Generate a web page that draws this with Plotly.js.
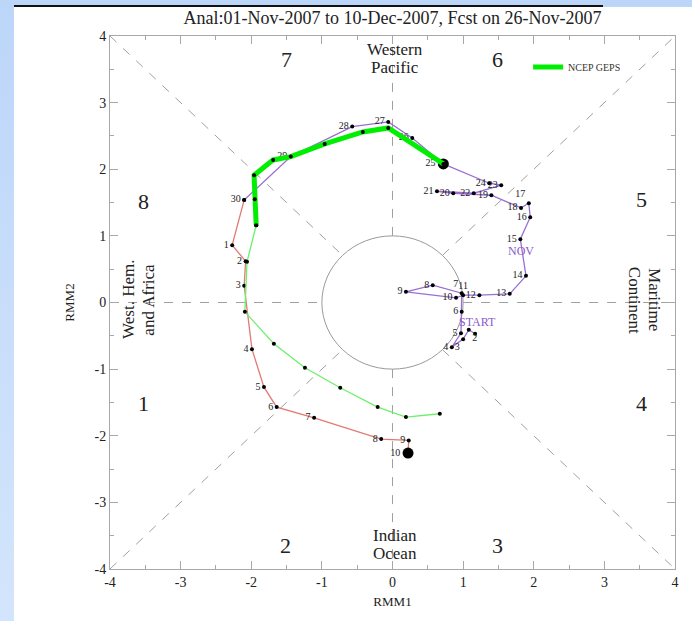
<!DOCTYPE html>
<html>
<head>
<meta charset="utf-8">
<script src="https://cdn.plot.ly/plotly-3.0.1.min.js"></script>
<style>
  html, body { margin: 0; padding: 0; }
  body {
    width: 692px; height: 621px; overflow: hidden; position: relative;
    background: linear-gradient(180deg, #bcd6f9 0%, #d3e5fc 100%);
  }
  #panel { position: absolute; left: 14px; top: 7px; right: 0; bottom: 0; background: #ffffff; }
  #rule { position: absolute; left: 14px; top: 5px; width: 589px; height: 2px; background: #111; }
  #chart { position: absolute; left: 0; top: 0; width: 692px; height: 621px; }
</style>
</head>
<body>
<div id="panel"></div>
<div id="rule"></div>
<div id="chart"></div>
<script>
// Observed RMM index, November 2007 (day of month, RMM1, RMM2)
const novDays = [1, 2, 3, 4, 5, 6, 7, 8, 9, 10, 11, 12, 13, 14, 15, 16, 17, 18, 19, 20, 21, 22, 23, 24, 25, 26, 27, 28, 29, 30];
const novRmm1 = [1.17, 1.08, 1.00, 0.84, 0.97, 0.98, 0.98, 0.57, 0.19, 0.90, 1.00, 1.23, 1.66, 1.89, 1.81, 1.95, 1.93, 1.82, 1.40, 0.86, 0.63, 1.15, 1.54, 1.37, 0.72, 0.28, -0.06, -0.57, -1.44, -2.10];
const novRmm2 = [-0.47, -0.41, -0.55, -0.67, -0.46, -0.14, 0.14, 0.26, 0.16, 0.07, 0.11, 0.11, 0.13, 0.40, 0.95, 1.28, 1.49, 1.42, 1.61, 1.64, 1.67, 1.64, 1.76, 1.79, 2.08, 2.47, 2.71, 2.64, 2.19, 1.54];

// Observed RMM index, 30 Nov to 10 Dec 2007
const decDays = ['', '1', '2', '3', '4', '5', '6', '7', '8', '9', '10'];
const decRmm1 = [-2.10, -2.27, -2.08, -2.10, -1.99, -1.82, -1.64, -1.11, -0.16, 0.23, 0.22];
const decRmm2 = [1.54, 0.86, 0.62, 0.25, -0.70, -1.27, -1.57, -1.73, -2.05, -2.07, -2.26];

// NCEP GEPS ensemble-mean forecast: first week (thick) and second week (thin)
const gepsWk1Rmm1 = [0.72, -0.06, -0.42, -0.96, -1.44, -1.69, -1.96, -1.95, -1.93];
const gepsWk1Rmm2 = [2.08, 2.62, 2.56, 2.38, 2.19, 2.14, 1.91, 1.55, 1.16];
const gepsWk2Rmm1 = [-1.93, -2.06, -2.09, -1.68, -1.24, -0.74, -0.21, 0.19, 0.67];
const gepsWk2Rmm2 = [1.16, 0.61, -0.14, -0.62, -0.98, -1.28, -1.57, -1.72, -1.67];

// Axis ticks
const tickVals = [-4, -3, -2, -1, 0, 1, 2, 3, 4];
const tickLabels = ['-4', '-3', '-2', '-1', '0', '1', '2', '3', '4'];

// Phase numbers and region names around the diagram (one entry per text line)
const phaseLabels = ['1', '2', '3', '4', '5', '6', '7', '8'];
const phaseX = [-3.53, -1.52, 1.48, 3.52, 3.52, 1.48, -1.50, -3.53];
const phaseY = [-1.51, -3.64, -3.64, -1.51, 1.54, 3.64, 3.64, 1.51];
const regionLines = ['Western', 'Pacific', 'Indian', 'Ocean', 'West. Hem.', 'and Africa', 'Maritime', 'Continent'];
const regionX = [0.03, 0.03, 0.03, 0.03, -3.73, -3.45, 3.70, 3.42];
const regionY = [3.79, 3.52, -3.50, -3.76, 0.04, 0.04, 0.04, 0.04];
const regionAngle = [0, 0, 0, 0, -90, -90, 90, 90];

const serif = 'Liberation Serif, Times New Roman, serif';
const purple = '#9a6fd2';
const red = '#e07a74';

// Day labels: START marks the first day, so its own number is left off.
// Labels in crowded stretches of the track are nudged to other sides.
const novText = novDays.map(d => d === 1 ? '' : String(d));
const novTextPos = novDays.map(d => {
  if (d === 7) return 'top left';
  if (d === 11) return 'top center';
  if (d === 2) return 'bottom right';
  if (d === 3) return 'bottom left';
  if (d === 17) return 'top left';
  return 'middle left';
});
const novSizes = novDays.map(d => d === 25 ? 11 : 4);
const decSizes = decDays.map(d => d === '10' ? 11 : 4);
const dot = size => ({color: '#000', size: size, opacity: 1, line: {width: 0}});

const traces = [
  {
    x: novRmm1, y: novRmm2, text: novText, mode: 'lines+markers+text',
    textposition: novTextPos, textfont: {family: serif, size: 10, color: '#222'},
    line: {color: purple, width: 1.3}, marker: dot(novSizes),
    showlegend: false, hoverinfo: 'skip'
  },
  {
    x: decRmm1, y: decRmm2, text: decDays, mode: 'lines+markers+text',
    textposition: 'middle left', textfont: {family: serif, size: 10, color: '#222'},
    line: {color: red, width: 1.3}, marker: dot(decSizes),
    showlegend: false, hoverinfo: 'skip'
  },
  {
    x: gepsWk2Rmm1, y: gepsWk2Rmm2, mode: 'lines+markers',
    line: {color: '#6cf06c', width: 1.3}, marker: dot(4),
    showlegend: false, hoverinfo: 'skip'
  },
  {
    x: gepsWk1Rmm1, y: gepsWk1Rmm2, mode: 'lines', name: 'NCEP GEPS',
    line: {color: '#00ee00', width: 5},
    showlegend: true, hoverinfo: 'skip'
  },
  {
    x: gepsWk1Rmm1, y: gepsWk1Rmm2, mode: 'markers', marker: dot(4),
    showlegend: false, hoverinfo: 'skip'
  }
];

// Phase-boundary guides and the unit circle
const guide = {color: '#a0a0a0', width: 1, dash: 'dash'};
const r = Math.SQRT1_2;
const shapes = [
  {type: 'line', x0: -4, y0: 4, x1: -r, y1: r, line: guide},
  {type: 'line', x0: r, y0: -r, x1: 4, y1: -4, line: guide},
  {type: 'line', x0: -4, y0: -4, x1: -r, y1: -r, line: guide},
  {type: 'line', x0: r, y0: r, x1: 4, y1: 4, line: guide},
  {type: 'line', x0: -4, y0: 0, x1: -1, y1: 0, line: guide},
  {type: 'line', x0: 1, y0: 0, x1: 4, y1: 0, line: guide},
  {type: 'line', x0: 0, y0: 1, x1: 0, y1: 4, line: guide},
  {type: 'line', x0: 0, y0: -1, x1: 0, y1: -4, line: guide},
  {type: 'circle', x0: -1, y0: -1, x1: 1, y1: 1, line: {color: '#9a9a9a', width: 1}}
].map(s => Object.assign({xref: 'x', yref: 'y', layer: 'below'}, s));

const annotations = [];
phaseLabels.forEach((t, i) => annotations.push({
  x: phaseX[i], y: phaseY[i], text: t, showarrow: false,
  font: {family: serif, size: 22, color: '#222'}
}));
regionLines.forEach((t, i) => annotations.push({
  x: regionX[i], y: regionY[i], text: t, showarrow: false, textangle: regionAngle[i],
  font: {family: serif, size: 17, color: '#222'}
}));
annotations.push({x: 1.82, y: 0.77, text: 'NOV', showarrow: false,
  font: {family: serif, size: 12, color: '#8a5cc8'}});
annotations.push({x: 1.20, y: -0.29, text: 'START', showarrow: false,
  font: {family: serif, size: 12, color: '#8a5cc8'}});

const axisStyle = {
  range: [-4, 4], tickmode: 'array', tickvals: tickVals, ticktext: tickLabels,
  showline: true, linecolor: '#a8a8a8', linewidth: 1,
  mirror: 'allticks', ticks: 'inside', ticklen: 8, tickcolor: '#a8a8a8',
  minor: {dtick: 0.5, ticks: 'inside', ticklen: 4, tickcolor: '#a8a8a8'},
  showgrid: false, zeroline: false, fixedrange: true,
  tickfont: {family: serif, size: 14, color: '#222'}
};

const layout = {
  width: 692, height: 621,
  margin: {l: 110, r: 17, t: 36, b: 52},
  paper_bgcolor: 'rgba(0,0,0,0)', plot_bgcolor: '#ffffff',
  title: {
    text: 'Anal:01-Nov-2007 to 10-Dec-2007, Fcst on 26-Nov-2007',
    font: {family: serif, size: 18, color: '#222'},
    x: 0.5, xref: 'paper', y: 1 - 18 / 621, yref: 'container', yanchor: 'middle'
  },
  xaxis: Object.assign({}, axisStyle, {
    title: {text: 'RMM1', font: {family: serif, size: 13, color: '#222'}, standoff: 8}
  }),
  yaxis: Object.assign({}, axisStyle, {
    title: {text: 'RMM2', font: {family: serif, size: 13, color: '#222'}, standoff: 16}
  }),
  legend: {
    x: 0.74, y: 0.942, xanchor: 'left', yanchor: 'middle',
    bgcolor: 'rgba(0,0,0,0)', borderwidth: 0,
    font: {family: serif, size: 10, color: '#333'}
  },
  shapes: shapes,
  annotations: annotations
};

Plotly.newPlot('chart', traces, layout, {displayModeBar: false, staticPlot: true});
</script>
</body>
</html>
